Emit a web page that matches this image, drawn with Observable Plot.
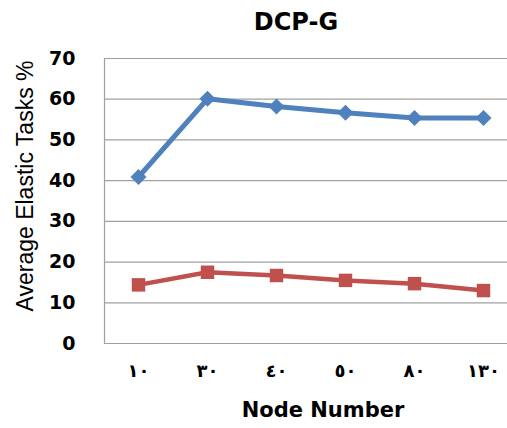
<!DOCTYPE html>
<html>
<head>
<meta charset="utf-8">
<script src="https://cdn.jsdelivr.net/npm/d3@7"></script>
<script src="https://cdn.jsdelivr.net/npm/@observablehq/plot@0.6"></script>
<style>
  html, body { margin: 0; padding: 0; background: #fff; }
  #wrap { position: relative; width: 507px; height: 428px; overflow: hidden; font-family: "DejaVu Sans", sans-serif; }
  #title { position: absolute; top: 10px; left: 296px; transform: translateX(-50%); font-size: 24px; font-weight: bold; line-height: 24px; white-space: nowrap; color: #000; }
  #chart { position: absolute; top: 40px; left: 0; }
  #xlabel { position: absolute; top: 400px; left: 323px; transform: translateX(-50%); font-size: 21px; font-weight: bold; line-height: 21px; white-space: nowrap; color: #000; }
</style>
</head>
<body>
<div id="wrap">
  <div id="title">DCP-G</div>
  <div id="chart"></div>
  <div id="xlabel">Node Number</div>
</div>
<script>
const nodes = ["١٠", "٣٠", "٤٠", "٥٠", "٨٠", "١٣٠"];
const seriesBlue = [40.9, 60.1, 58.2, 56.7, 55.4, 55.4];
const seriesRed = [14.4, 17.5, 16.7, 15.5, 14.7, 13.0];
const yTicks = [0, 10, 20, 30, 40, 50, 60, 70];
const yLabel = "Average Elastic Tasks %";

const blueData = nodes.map((n, i) => ({node: n, value: seriesBlue[i]}));
const redData = nodes.map((n, i) => ({node: n, value: seriesRed[i]}));

const chart = Plot.plot({
  width: 507,
  height: 350,
  marginLeft: 104,
  marginRight: 0,
  marginTop: 18,
  marginBottom: 47,
  style: {background: "transparent", fontFamily: "DejaVu Sans, sans-serif", color: "#000"},
  x: {type: "point", domain: nodes, padding: 0.4, align: 0.58},
  y: {domain: [0, 70]},
  marks: [
    Plot.gridY(yTicks, {stroke: "#a0a0a0", strokeOpacity: 1, strokeWidth: 1.2}),
    Plot.frame({anchor: "left", stroke: "#a0a0a0", strokeWidth: 1.2}),
    Plot.axisY(yTicks, {tickSize: 0, tickPadding: 29, fontSize: 19, fontWeight: "bold", label: null}),
    Plot.axisX({tickSize: 0, tickPadding: 21, fontSize: 18, fontWeight: "bold", label: null}),
    Plot.text([yLabel], {frameAnchor: "left", textAnchor: "middle", lineAnchor: "middle", rotate: -90, dx: -79, dy: -15, fontSize: 23, fontFamily: "Liberation Sans, sans-serif", fill: "#000", text: d => d}),
    Plot.lineY(redData, {x: "node", y: "value", stroke: "#C0504D", strokeWidth: 4.5}),
    Plot.dot(redData, {x: "node", y: "value", symbol: "square", r: 7.6, fill: "#C0504D", stroke: "none"}),
    Plot.lineY(blueData, {x: "node", y: "value", stroke: "#4F81BD", strokeWidth: 5}),
    Plot.dot(blueData, {x: "node", y: "value", symbol: "diamond2", r: 7.2, fill: "#4F81BD", stroke: "none"})
  ]
});
document.getElementById("chart").appendChild(chart);
</script>
</body>
</html>
